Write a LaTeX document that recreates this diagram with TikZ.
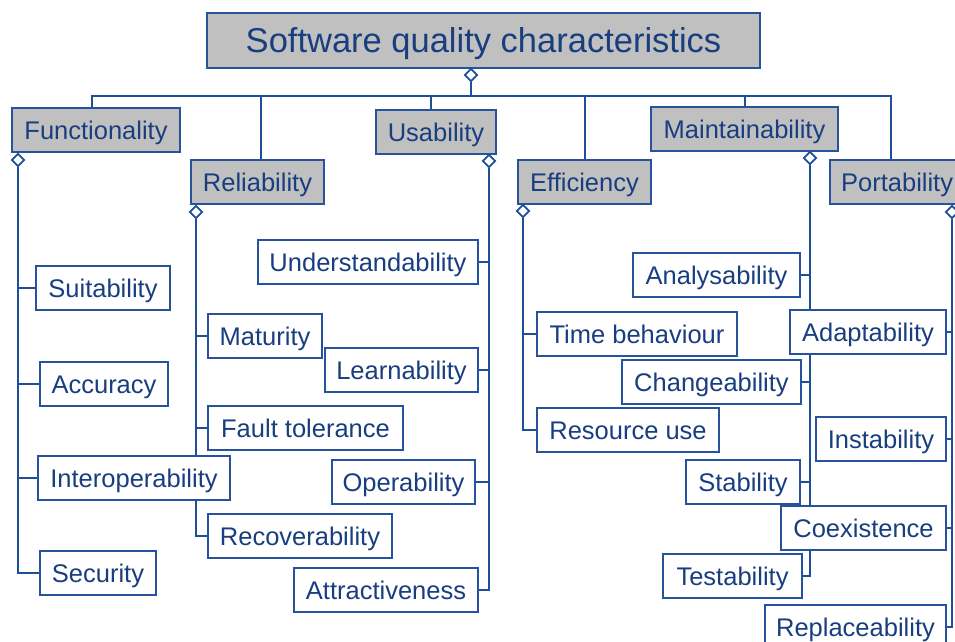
\documentclass[tikz,border=0pt]{standalone}
\usepackage{fontspec}
\setmainfont{Liberation Sans}
\usetikzlibrary{shapes.geometric,backgrounds,calc}
\definecolor{bord}{RGB}{38,82,158}
\definecolor{txt}{RGB}{24,62,128}
\definecolor{catfill}{RGB}{192,192,192}
\definecolor{conn}{RGB}{30,80,150}
\tikzset{
  x=1pt, y=-1pt,
  leaf/.style={draw=bord, line width=2.2pt, fill=white, text=txt, minimum height=44pt,
    inner sep=0pt, text height=18.3pt, text depth=0pt, font=\fontsize{25.5}{25.5}\selectfont},
  cat/.style={leaf, fill=catfill},
  agg/.style={diamond, draw=conn, line width=1.8pt, fill=white, minimum size=13pt, inner sep=0pt},
  link/.style={draw=conn, line width=1.8pt},
}
\begin{document}
\begin{tikzpicture}
\clip (0,0) rectangle (955,642);
\useasboundingbox (0,0) rectangle (955,642);
% title
\node[cat, minimum width=553pt, minimum height=55pt, text height=24.7pt, font=\fontsize{34.5}{34.5}\selectfont] (title) at (483.5,40.5) {Software quality characteristics};
\node[agg] (dT) at (471,75) {};
\coordinate (bus) at (471,96);
% categories
\node[cat, minimum width=168pt] (func) at (96,130) {Functionality};
\node[cat, minimum width=133pt] (rel) at (257.5,182) {Reliability};
\node[cat, minimum width=120pt] (usa) at (436,132) {Usability};
\node[cat, minimum width=133pt] (eff) at (584.5,182) {Efficiency};
\node[cat, minimum width=187pt] (mai) at (744.5,129) {Maintainability};
\node[cat, minimum width=134pt, anchor=west] (por) at (829,182) {Portability};
% diamonds
\node[agg] (dF) at (18,160) {};
\node[agg] (dR) at (196,212) {};
\node[agg] (dU) at (489,161) {};
\node[agg] (dE) at (523,211) {};
\node[agg] (dM) at (810,158) {};
\node[agg] (dP) at (952,212) {};
% functionality children
\node[leaf, minimum width=134pt] (suit) at (103,288) {Suitability};
\node[leaf, minimum width=128pt] (acc) at (104,384) {Accuracy};
\node[leaf, minimum width=192pt] (inter) at (134,478) {Interoperability};
\node[leaf, minimum width=116pt] (sec) at (98,573) {Security};
% reliability children
\node[leaf, minimum width=114pt] (mat) at (265,336) {Maturity};
\node[leaf, minimum width=195pt] (fault) at (305.5,428) {Fault tolerance};
\node[leaf, minimum width=184pt] (rec) at (300,536) {Recoverability};
% usability children
\node[leaf, minimum width=220pt] (und) at (368,262) {Understandability};
\node[leaf, minimum width=153pt] (lea) at (401.5,370) {Learnability};
\node[leaf, minimum width=143pt] (ope) at (403.5,482) {Operability};
\node[leaf, minimum width=184pt] (att) at (386,590) {Attractiveness};
% efficiency children
\node[leaf, minimum width=200pt] (time) at (637,334) {Time behaviour};
\node[leaf, minimum width=182pt] (res) at (628,430) {Resource use};
% maintainability children
\node[leaf, minimum width=167pt] (ana) at (716.5,275) {Analysability};
\node[leaf, minimum width=179pt] (cha) at (711.5,382) {Changeability};
\node[leaf, minimum width=114pt] (sta) at (743,482) {Stability};
\node[leaf, minimum width=139pt] (tes) at (732.5,576) {Testability};
% portability children
\node[leaf, minimum width=156pt] (ada) at (868,332) {Adaptability};
\node[leaf, minimum width=130pt] (ins) at (881,439) {Instability};
\node[leaf, minimum width=165pt] (coe) at (863.5,528) {Coexistence};
\node[leaf, minimum width=181pt] (rep) at (855.5,627) {Replaceability};
\begin{scope}[on background layer]
  \draw[link, line width=1.5pt] (dT.south) -- (bus);
  \draw[link, line width=1.5pt] (bus) -| ($(func.north)+(-4,0)$);
  \draw[link] (bus) -| ($(rel.north)+(3.5,0)$);
  \draw[link] (bus) -| ($(usa.north)+(-5,0)$);
  \draw[link] (bus) -| ($(eff.north)+(0.5,0)$);
  \draw[link, line width=1.5pt] (bus) -| ($(mai.north)+(0.5,0)$);
  \draw[link] (bus) -| ($(por.north west)+(62,0)$);
  \foreach \c in {suit,acc,inter,sec} \draw[link] (dF.south) |- (\c.west);
  \foreach \c in {mat,fault,rec} \draw[link] (dR.south) |- (\c.west);
  \foreach \c in {und,lea,ope,att} \draw[link] (dU.south) |- (\c.east);
  \foreach \c in {time,res} \draw[link] (dE.south) |- (\c.west);
  \foreach \c in {ana,cha,sta,tes} \draw[link] (dM.south) |- (\c.east);
  \foreach \c in {ada,ins,coe,rep} \draw[link] (dP.south) |- (\c.east);
\end{scope}
\end{tikzpicture}
\end{document}
